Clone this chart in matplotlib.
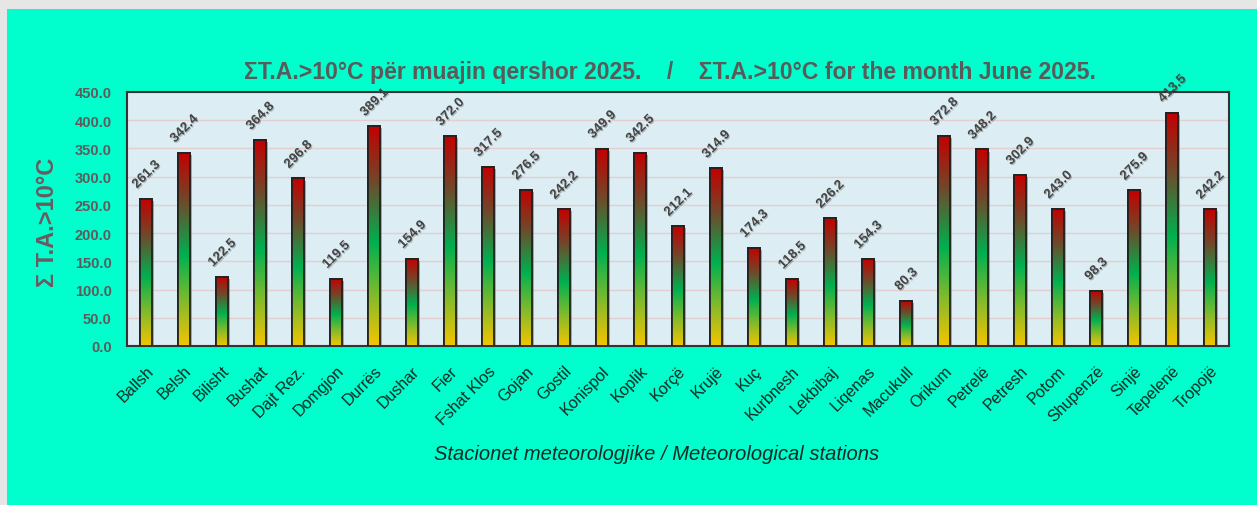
import numpy as np
import matplotlib
matplotlib.use("Agg")
import matplotlib.pyplot as plt
from matplotlib.colors import LinearSegmentedColormap
from matplotlib.patches import Rectangle
import matplotlib.patheffects as pe

stations = ["Ballsh", "Belsh", "Bilisht", "Bushat", "Dajt Rez.", "Domgjon", "Durrës",
            "Dushar", "Fier", "Fshat Klos", "Gojan", "Gostil", "Konispol", "Koplik",
            "Korçë", "Krujë", "Kuç", "Kurbnesh", "Lekbibaj", "Liqenas", "Macukull",
            "Orikum", "Petrelë", "Petresh", "Potom", "Shupenzë", "Sinjë", "Tepelenë",
            "Tropojë"]
values = [261.3, 342.4, 122.5, 364.8, 296.8, 119.5, 389.1,
          154.9, 372.0, 317.5, 276.5, 242.2, 349.9, 342.5,
          212.1, 314.9, 174.3, 118.5, 226.2, 154.3, 80.3,
          372.8, 348.2, 302.9, 243.0, 98.3, 275.9, 413.5,
          242.2]
yticks = [0, 50, 100, 150, 200, 250, 300, 350, 400, 450]

title = "ΣT.A.>10°C për muajin qershor 2025.    /    ΣT.A.>10°C for the month June 2025."
ylabel = "Σ T.A.>10°C"
xlabel = "Stacionet meteorologjike / Meteorological stations"

plt.rcParams['font.family'] = ['Liberation Sans', 'DejaVu Sans']

W, H = 1257, 506
fig = plt.figure(figsize=(W / 100, H / 100), dpi=100)
fig.patch.set_facecolor('#e6e6e6')
fig.patches.append(Rectangle((7 / W, 0), 1 - 7 / W, 1 - 10 / H, transform=fig.transFigure,
                             facecolor='#00ffcc', edgecolor='none', zorder=-10))

ax = fig.add_axes([127 / W, 1 - 347 / H, (1229 - 127) / W, (347 - 93) / H])
ax.set_zorder(1)
ax.set_facecolor('#dcedf3')

cmap = LinearSegmentedColormap.from_list(
    'ygr', [(0.0, '#f5c400'), (0.22, '#86bb2a'), (0.47, '#00b050'),
            (0.75, '#70482a'), (1.0, '#c40000')])
grad = np.linspace(0, 1, 256).reshape(-1, 1)

x = np.arange(len(stations))
bw = 0.32
bars = ax.bar(x, values, width=bw, facecolor='#888888', edgecolor='#222222',
              linewidth=1.3, zorder=3,
              path_effects=[pe.SimplePatchShadow(offset=(1.5, -1.5), alpha=0.35), pe.Normal()])
for xi, v, b in zip(x, values, bars):
    im = ax.imshow(grad, extent=[xi - bw / 2, xi + bw / 2, 0, v], origin='lower',
                   cmap=cmap, aspect='auto', zorder=3.5, interpolation='bilinear')
    im.set_clip_path(b)
    ax.bar([xi], [v], width=bw, facecolor='none', edgecolor='#222222', linewidth=1.3, zorder=4)
    ax.annotate(f"{v:.1f}", (xi, v), xytext=(0.5, 5.5), textcoords='offset points',
                ha='center', va='bottom', rotation=45, fontsize=9.6, fontweight='bold',
                color='#454545', clip_on=False, zorder=5,
                path_effects=[pe.withSimplePatchShadow(offset=(0.8, -0.8), alpha=0.25)])

ax.set_xlim(-0.5, len(stations) - 0.5)
ax.set_ylim(0, 450)
ax.set_yticks(yticks)
ax.set_yticklabels([f"{t:.1f}" for t in yticks], fontsize=10.5, fontweight='bold', color='#5e5a5c')
ax.set_xticks(x)
ax.set_xticklabels(stations, rotation=45, ha='right', va='top', rotation_mode='anchor',
                   fontsize=11.5, color='#102a24')
for lbl in ax.get_xticklabels():
    lbl.set_transform(lbl.get_transform() + matplotlib.transforms.ScaledTranslation(0, 0, fig.dpi_scale_trans))
ax.tick_params(axis='y', length=0, pad=11)
ax.tick_params(axis='x', length=0, pad=12)
ax.yaxis.grid(True, color='#e3cfcf', linewidth=1, zorder=1)
ax.set_axisbelow(True)
for s in ax.spines.values():
    s.set_color('#333333')
    s.set_linewidth(1.5)

fig.text(670 / W, 1 - 72 / H, title, ha='center', va='center', fontsize=16.6,
         fontweight='bold', color='#5a5a5a')
fig.text(48 / W, 1 - 222 / H, ylabel, ha='center', va='center', rotation=90,
         fontsize=17, fontweight='bold', color='#6a5a60')
fig.text(657 / W, 1 - 454 / H, xlabel, ha='center', va='center', fontsize=14.5,
         fontstyle='italic', color='#102a24')

fig.savefig('out.png', dpi=100, facecolor=fig.get_facecolor())
